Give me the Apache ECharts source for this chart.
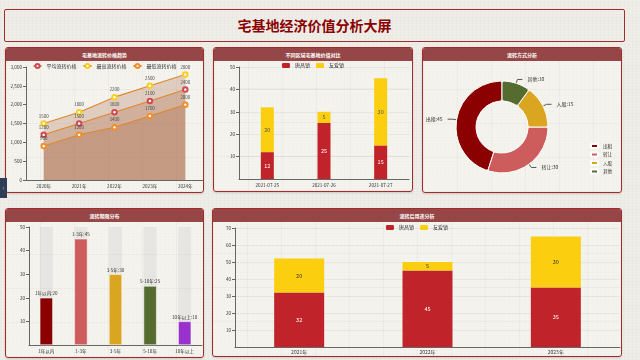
<!DOCTYPE html>
<html><head><meta charset="utf-8">
<script src="https://cdn.jsdelivr.net/npm/echarts@6/dist/echarts.min.js"></script>
<style>
html,body{margin:0;padding:0;width:640px;height:360px;overflow:hidden;}
body{background:#eeede7;background-image:repeating-linear-gradient(0deg,rgba(0,0,0,0.012) 0 1px,transparent 1px 3px),repeating-linear-gradient(90deg,rgba(0,0,0,0.012) 0 1px,transparent 1px 4px);font-family:"Noto Sans CJK SC",sans-serif;position:relative;}
.title{position:absolute;left:4px;top:9px;width:619px;height:31px;border:1.5px solid #a52a2a;border-radius:2px;text-align:center;line-height:31px;font-size:14px;font-weight:bold;color:#8b0000;}
.panel{position:absolute;border:1.5px solid #a52a2a;border-radius:3px;box-sizing:border-box;background:rgba(250,249,245,0.5);box-shadow:0 1px 2px rgba(0,0,0,0.15);overflow:hidden;}
.panel .hd{position:absolute;left:0;top:0;right:0;height:13px;background:#964646;color:#fff;font-size:5px;font-weight:bold;text-align:center;line-height:13px;z-index:2;}
.panel .ch{position:absolute;left:0;top:0;right:0;bottom:0;background-image:repeating-linear-gradient(0deg,rgba(180,60,60,0.05) 0 1px,transparent 1px 34px),repeating-linear-gradient(90deg,rgba(180,60,60,0.05) 0 1px,transparent 1px 34px);}
.tab{position:absolute;left:0;top:178px;width:7px;height:20px;background:#2d3e55;color:#ccc;font-size:6px;line-height:20px;text-align:center;}
</style></head>
<body>
<div class="title">宅基地经济价值分析大屏</div>
<div class="panel" style="left:5px;top:47px;width:199px;height:146px;"><div class="hd">宅基地流转价格趋势</div><div class="ch" id="c1"></div></div>
<div class="panel" style="left:213px;top:47px;width:200px;height:145px;"><div class="hd">不同区域宅基地价值对比</div><div class="ch" id="c2"></div></div>
<div class="panel" style="left:422px;top:47px;width:200px;height:146px;"><div class="hd">流转方式分析</div><div class="ch" id="c3"></div></div>
<div class="panel" style="left:5px;top:208px;width:199px;height:150px;"><div class="hd">流转期限分布</div><div class="ch" id="c4"></div></div>
<div class="panel" style="left:212px;top:208px;width:410px;height:149px;"><div class="hd">流转后用途分析</div><div class="ch" id="c5"></div></div>
<div class="tab">›</div>
<script>
// ---- data ----
const years = ['2020年','2021年','2022年','2023年','2024年'];
const avgPrice = [1200,1500,1800,2100,2400];
const maxPrice = [1500,1800,2200,2500,2800];
const minPrice = [900,1200,1400,1700,2000];
const seriesNames1 = ['平均流转价格','最高流转价格','最低流转价格'];

const dates = ['2021-07-25','2021-07-26','2021-07-27'];
const towns = ['唐昌镇','友爱镇'];
const townA = [12,25,15];
const townB = [20,5,30];

const modes = ['出租','转让','入股','其他'];
const modeValues = [45,30,15,10];

const terms = ['1年以内','1-3年','3-5年','5-10年','10年以上'];
const termValues = [20,45,30,25,10];

const useYears = ['2021年','2022年','2023年'];
const useA = [32,45,35];
const useB = [20,5,30];

const FONT = '"Noto Sans CJK SC", sans-serif';
const axisLine = {lineStyle:{color:'#666'}};
const axisLabelS = {fontSize:4.6,color:'#333',fontFamily:FONT,margin:4};
const legendText = {fontSize:5,color:'#333',fontFamily:FONT};

// ---- chart 1 ----
const c1 = echarts.init(document.getElementById('c1'));
const areaCol = 'rgba(160,82,45,0.33)';
function lineS(name,data,sym){
  return {name:name,type:'line',data:data,symbol:'emptyCircle',symbolSize:4.5,
    lineStyle:{color:'#e0852a',width:1.1},
    itemStyle:{color:sym,borderWidth:1.4},
    areaStyle:{color:areaCol},
    label:{show:true,position:'top',fontSize:4.4,color:'#444',distance:2,fontFamily:FONT}};
}
c1.setOption({
  animation:false,
  legend:{top:15,left:'center',padding:0,itemWidth:8,itemHeight:5,itemGap:6,textStyle:legendText},
  grid:{left:20,right:0,top:19,bottom:12},
  xAxis:{type:'category',data:years,axisLine:axisLine,axisTick:{alignWithLabel:true},axisLabel:axisLabelS},
  yAxis:{type:'value',min:0,max:3000,interval:500,axisLine:{show:true,lineStyle:{color:'#666'}},axisTick:{show:true,length:3},axisLabel:axisLabelS,splitLine:{show:false}},
  series:[lineS(seriesNames1[0],avgPrice,'#d04a55'),lineS(seriesNames1[1],maxPrice,'#f5d020'),lineS(seriesNames1[2],minPrice,'#f0902a')]
});

// ---- chart 2 ----
const c2 = echarts.init(document.getElementById('c2'));
c2.setOption({
  animation:false,
  color:['#c1232b','#fcce10'],
  legend:{top:15,left:'center',padding:0,itemWidth:8,itemHeight:5,itemGap:6,textStyle:legendText},
  grid:{left:25,right:3,top:19,bottom:12},
  xAxis:{type:'category',data:dates,axisLine:axisLine,axisTick:{show:false},axisLabel:axisLabelS},
  yAxis:{type:'value',min:0,max:50,interval:10,axisLine:{show:true,lineStyle:{color:'#666'}},axisTick:{show:true,length:3},axisLabel:Object.assign({showMinLabel:false},axisLabelS),splitLine:{lineStyle:{color:'rgba(0,0,0,0.05)'}}},
  series:[
    {name:towns[0],type:'bar',stack:'s',barWidth:13,data:townA,label:{show:true,color:'#fff',fontSize:5.5,fontFamily:FONT}},
    {name:towns[1],type:'bar',stack:'s',barWidth:13,data:townB,label:{show:true,color:'#555',fontSize:5.5,fontFamily:FONT}}
  ]
});

// ---- chart 3 ----
const c3 = echarts.init(document.getElementById('c3'));
c3.setOption({
  animation:false,
  color:['#8b0000','#cd5c5c','#daa520','#556b2f'],
  legend:{orient:'vertical',left:167,top:95,padding:0,itemWidth:7,itemHeight:4,itemGap:2.5,textStyle:{fontSize:4.6,color:'#333',fontFamily:FONT}},
  series:[{type:'pie',center:[79,79],radius:[26,46],clockwise:false,startAngle:90,
    itemStyle:{borderColor:'#fff',borderWidth:1,borderRadius:2},
    label:{formatter:'{b}:{c}',fontSize:5,color:'#333',fontFamily:FONT,overflow:'none'},
    labelLine:{length:4,length2:5,lineStyle:{color:'#555'}},
    data:modes.map((m,i)=>({name:m,value:modeValues[i]}))}]
});

// ---- chart 4 ----
const c4 = echarts.init(document.getElementById('c4'));
const termColors = ['#8b0000','#cd5c5c','#daa520','#556b2f','#9932cc'];
c4.setOption({
  animation:false,
  grid:{left:23,right:1,top:18,bottom:12},
  xAxis:{type:'category',data:terms,axisLine:axisLine,axisTick:{show:false},axisLabel:axisLabelS},
  yAxis:{type:'value',min:0,max:50,interval:10,axisLine:{show:true,lineStyle:{color:'#666'}},axisTick:{show:true,length:3},axisLabel:Object.assign({showMinLabel:false},axisLabelS),splitLine:{show:false}},
  series:[{type:'bar',barWidth:13,showBackground:true,backgroundStyle:{color:'rgba(180,180,180,0.2)'},
    data:termValues.map((v,i)=>({value:v,itemStyle:{color:termColors[i],borderColor:'#fff',borderWidth:0.5}})),
    label:{show:true,position:'top',formatter:'{b}:{c}',fontSize:4.6,color:'#333',distance:2,fontFamily:FONT}}]
});

// ---- chart 5 ----
const c5 = echarts.init(document.getElementById('c5'));
c5.setOption({
  animation:false,
  color:['#c1232b','#fcce10'],
  legend:{top:16,left:'center',padding:0,itemWidth:8,itemHeight:5,itemGap:6,textStyle:legendText},
  grid:{left:22,right:1,top:19,bottom:9},
  xAxis:{type:'category',data:useYears,axisLine:axisLine,axisTick:{show:false},axisLabel:Object.assign({},axisLabelS,{fontSize:5,margin:3})},
  yAxis:{type:'value',min:0,max:70,interval:10,axisLine:{show:true,lineStyle:{color:'#666'}},axisTick:{show:true,length:3},axisLabel:Object.assign({showMinLabel:false},axisLabelS),splitLine:{lineStyle:{color:'rgba(0,0,0,0.05)'}}},
  series:[
    {name:towns[0],type:'bar',stack:'s',barWidth:50,data:useA,label:{show:true,color:'#fff',fontSize:5.5,fontFamily:FONT}},
    {name:towns[1],type:'bar',stack:'s',barWidth:50,data:useB,label:{show:true,color:'#333',fontSize:5.5,fontFamily:FONT}}
  ]
});
</script>
</body></html>
